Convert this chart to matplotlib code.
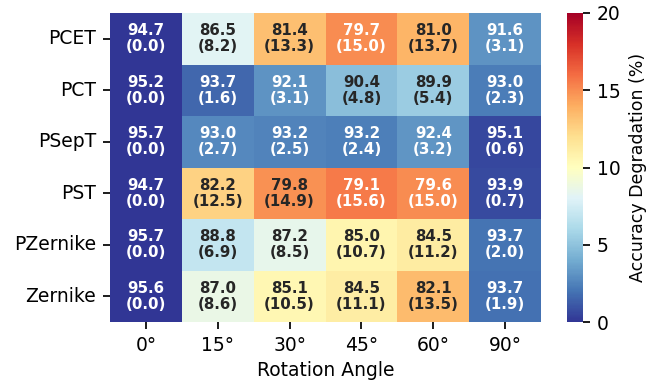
import matplotlib
matplotlib.use("Agg")
import matplotlib.pyplot as plt
import numpy as np
import seaborn as sns

methods = ["PCET", "PCT", "PSepT", "PST", "PZernike", "Zernike"]
angles = ["0°", "15°", "30°", "45°", "60°", "90°"]

# accuracy (%) per method and rotation angle
accuracy = np.array([
    [94.7, 86.5, 81.4, 79.7, 81.0, 91.6],
    [95.2, 93.7, 92.1, 90.4, 89.9, 93.0],
    [95.7, 93.0, 93.2, 93.2, 92.4, 95.1],
    [94.7, 82.2, 79.8, 79.1, 79.6, 93.9],
    [95.7, 88.8, 87.2, 85.0, 84.5, 93.7],
    [95.6, 87.0, 85.1, 84.5, 82.1, 93.7],
])

# degradation relative to 0° (percentage points)
degradation = np.array([
    [0.0, 8.2, 13.3, 15.0, 13.7, 3.1],
    [0.0, 1.6, 3.1, 4.8, 5.4, 2.3],
    [0.0, 2.7, 2.5, 2.4, 3.2, 0.6],
    [0.0, 12.5, 14.9, 15.6, 15.0, 0.7],
    [0.0, 6.9, 8.5, 10.7, 11.2, 2.0],
    [0.0, 8.6, 10.5, 11.1, 13.5, 1.9],
])

labels = np.array([
    [f"{a:.1f}\n({d:.1f})" for a, d in zip(ra, rd)]
    for ra, rd in zip(accuracy, degradation)
])

fig = plt.figure(figsize=(6.58, 3.81), dpi=100)
ax = fig.add_axes([110 / 658, 1 - 322 / 381, 431 / 658, 309 / 381])
cax = fig.add_axes([567 / 658, 1 - 322 / 381, 16 / 658, 309 / 381])

sns.heatmap(
    degradation,
    ax=ax,
    cbar_ax=cax,
    cmap="RdYlBu_r",
    vmin=0,
    vmax=20,
    annot=labels,
    fmt="",
    annot_kws={"fontsize": 10.8, "fontweight": "bold", "linespacing": 1.05},
    xticklabels=angles,
    yticklabels=methods,
)

ax.tick_params(axis="both", labelsize=13.5, length=5, width=1.25, pad=5)
ax.set_yticklabels(methods, rotation=0)
ax.set_xticklabels(angles, rotation=0)
ax.set_xlabel("Rotation Angle", fontsize=13.5, labelpad=4.5)

cax.tick_params(labelsize=13.5, length=5, width=1.25, pad=5)
cax.set_yticks([0, 5, 10, 15, 20])
cax.set_ylabel("Accuracy Degradation (%)", fontsize=12.5, labelpad=6)

fig.savefig("out.png", dpi=100)
